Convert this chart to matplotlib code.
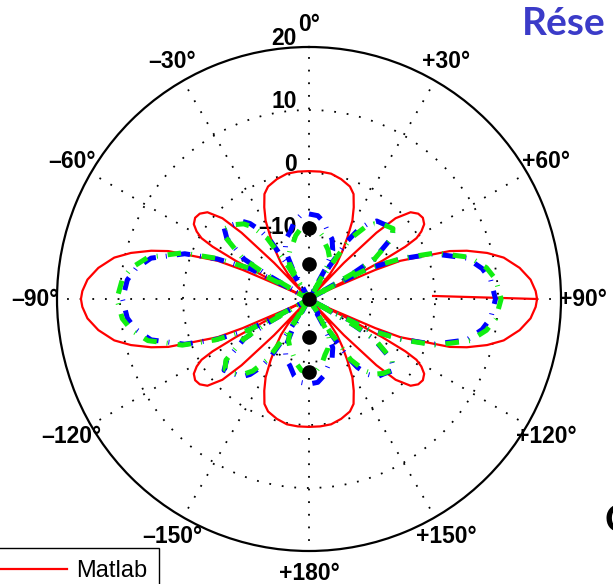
import numpy as np
import matplotlib.pyplot as plt

plt.rcParams['font.family'] = ['Liberation Sans', 'DejaVu Sans']

R_MIN, R_MAX = -20, 20

# gain in dB over one quadrant, angle from the array axis in degrees
matlab_deg = [0, 5, 10, 15, 20, 23, 26, 29, 32, 35, 38, 40, 41.8, 42.8,
              44, 45.5, 47, 49.5, 52, 54.5, 57, 59, 60.5, 61.5, 62.5, 63.5, 64.3,
              65.3, 66.3, 67.3, 69.3, 71.2, 73, 75.5, 78, 81.6, 85, 88, 90]
matlab_db = [0.3, 0.3, 0.2, -0.3, -1.0, -1.9, -3.8, -5.8, -8.5, -10.8, -12.8, -14.8, -18.5, -22,
             -12, -5, -1.2, 1.2, 2.0, 2.2, 1.8, 0.8, -0.4, -2.6, -7, -13.5, -22,
             -16, -8.5, -4.3, -1.0, 3.6, 6.2, 9.2, 11.6, 13.8, 15.3, 16.0, 16.2]
matlab_first = (88.6, -0.3)  # first sample of the Matlab run

blue_deg = [0, 6, 11, 16, 21, 26, 28.5, 30.5, 32, 33.5, 35.3, 38, 41, 45, 50, 53.6,
            55.7, 58.4, 59.8, 60.8, 61.6, 62.8, 66.4, 70, 75.5, 80, 84, 90]
blue_db = [-6.5, -6.7, -7.6, -9.0, -9.8, -11.4, -14.5, -22, -14, -9, -6.7, -4.8, -3.6, -3.2, -2.4, -3.8,
           -5.9, -7.9, -12, -22, -15.5, -9.5, -4.1, 1.0, 5.9, 7.9, 9.0, 9.6]

green_deg = [0, 6, 11.8, 16, 21, 26, 28.7, 30.2, 31.2, 32.5, 34.5, 38, 41, 45, 50, 53.6,
             55.7, 58.4, 59.8, 60.8, 61.6, 62.8, 66.4, 70, 75.5, 80, 84, 90]
green_db = [-8.3, -8.6, -9.7, -10.8, -11.6, -12.6, -13.5, -16, -22, -14, -8.3, -5.5, -4.2, -3.3, -2.6, -3.6,
            -5.6, -7.7, -11.5, -22, -15, -9.2, -3.8, 1.4, 6.4, 8.6, 9.8, 10.5]

# array elements along the axis
element_deg = [0, 0, 0, 180, 180]
element_db = [-20, -14.4, -8.7, -14.0, -8.4]

ring_db = [20, 10, 0, -10]
ring_labels = ['20', '10', '0', '–10']
spoke_deg = list(range(0, 360, 30))
spoke_labels = ['0°', '+30°', '+60°', '+90°', '+120°', '+150°', '+180°',
                '–150°', '–120°', '–90°', '–60°', '–30°']


def unfold(deg, db):
    # pattern is symmetric about both axes: build 0..360 from one quadrant
    deg = np.asarray(deg, float)
    db = np.asarray(db, float)
    th = np.concatenate([deg, 180 - deg[::-1][1:], 180 + deg[1:], 360 - deg[::-1][1:]])
    r = np.concatenate([db, db[::-1][1:], db[1:], db[::-1][1:]])
    return th, np.clip(r, R_MIN, None)


fig = plt.figure(figsize=(6.13, 5.84), dpi=100)
ax = fig.add_axes([57 / 613, 33 / 584, 504 / 613, 504 / 584], projection='polar')
ax.set_theta_zero_location('N')
ax.set_theta_direction(-1)
ax.set_ylim(R_MIN, R_MAX)

# Matlab curve starts at broadside and runs once round
th, r = unfold(matlab_deg, matlab_db)
i90 = len(matlab_deg) - 1
th_m = np.concatenate([[matlab_first[0]], th[i90:], th[1:i90 + 1] + 360])
r_m = np.concatenate([[matlab_first[1]], r[i90:], r[1:i90 + 1]])
line_m, = ax.plot(np.deg2rad(th_m), r_m, color='red', lw=1.6, zorder=3)

th, r = unfold(blue_deg, blue_db)
ax.plot(np.deg2rad(th), r, color='blue', lw=3.6, zorder=3.5,
        linestyle=(0, (2.7, 2.0, 0.2, 2.0)), dash_capstyle='butt')
th, r = unfold(green_deg, green_db)
ax.plot(np.deg2rad(th), r, color='#11ee11', lw=3.6, zorder=4,
        linestyle=(1.5, (2.7, 2.0, 0.2, 2.0)), dash_capstyle='butt')

ax.plot(np.deg2rad(element_deg), element_db, 'o', color='black', markersize=9.5,
        zorder=5, clip_on=False)

# grid
ax.set_xticks(np.deg2rad(spoke_deg))
ax.set_xticklabels([])
ax.set_yticks([-10, 0, 10])
ax.set_yticklabels([])
ax.tick_params(length=0)
ax.grid(True, color='black', linestyle=(0, (1, 6)), linewidth=1.3)
ax.spines['polar'].set_linewidth(1.6)

for rv, lbl in zip(ring_db, ring_labels):
    ax.annotate(lbl, xy=(0, rv), xytext=(-12, 2), textcoords='offset pixels',
                ha='right', va='baseline', fontsize=16.5, fontweight='bold',
                zorder=2, annotation_clip=False)

for a, lbl in zip(spoke_deg, spoke_labels):
    ax.text(np.deg2rad(a), 23.5, lbl, ha='center', va='center', fontsize=16.5,
            fontweight='bold', clip_on=False)

leg = fig.legend(handles=[line_m], labels=['Matlab'], loc='upper right',
                 bbox_to_anchor=(159 / 613, 1 - 548 / 584), fontsize=17,
                 handlelength=4, handletextpad=0.4, borderpad=0.5, borderaxespad=0,
                 fancybox=False, edgecolor='black', framealpha=1)
leg.get_frame().set_linewidth(1.0)

fig.text(522 / 613, 1 - 35 / 584, 'Rése', color='#3b3bc8', fontsize=28,
         fontweight='bold', family='Lato', ha='left', va='baseline')
fig.text(604 / 613, 1 - 532 / 584, 'C', color='black', fontsize=28,
         fontweight='bold', family='Lato', ha='left', va='baseline')

fig.savefig('out.png', dpi=100)
